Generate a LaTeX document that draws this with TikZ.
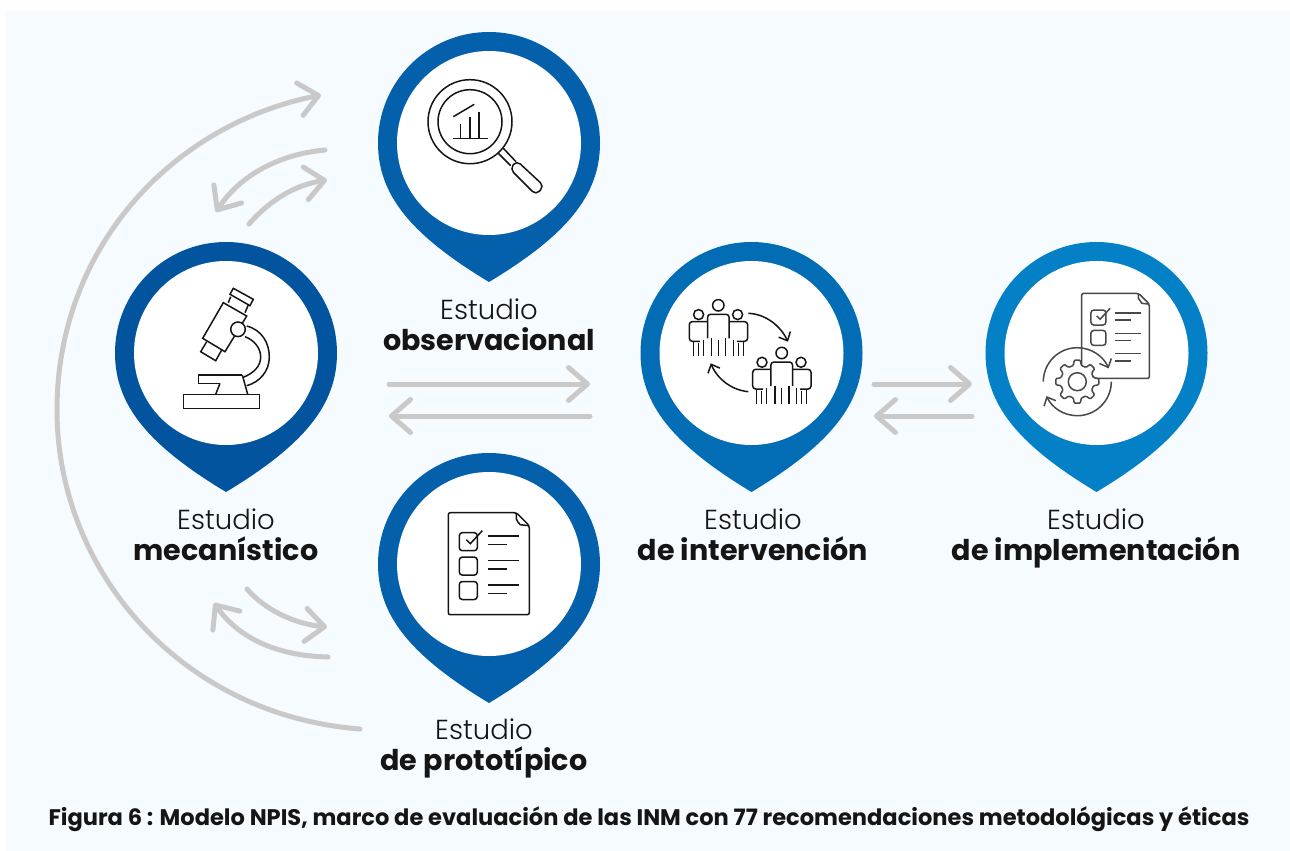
\documentclass[tikz,border=0pt]{standalone}
\usepackage{fontspec}
\setmainfont{Poppins}[UprightFont=* Light, BoldFont=* Bold]
\usetikzlibrary{arrows.meta}
\definecolor{panelblue}{HTML}{F5FBFF}
\definecolor{greyarrow}{HTML}{C9C9C9}
\definecolor{pinmec}{HTML}{03549F}
\definecolor{pinobs}{HTML}{0460AB}
\definecolor{pinint}{HTML}{026CB5}
\definecolor{pinimp}{HTML}{0380C6}
\definecolor{inkblack}{HTML}{151515}
\definecolor{inkgrey}{HTML}{484848}
\newcommand{\stagename}[1]{{\fontsize{28.6}{31}\selectfont\bfseries #1}}
\tikzset{
  cycleline/.style = {draw = greyarrow, line width = 5pt, line cap = round, -{Straight Barb[length = 19pt, width = 33pt, round]}},
  icon/.style = {draw = inkblack, line width = 1.5pt},
  iconarrow/.style = {icon, -{Straight Barb[length = 7pt, width = 13pt]}},
  stage/.style = {font = \fontsize{27.5}{31}\selectfont, align = center, text = inkblack},
  pin/.pic = {
    \fill[pic actions] (111, 0) arc [start angle = 0, end angle = 180, radius = 111pt] .. controls (-111, 52) and (-78, 92) .. (0, 139) .. controls (78, 92) and (111, 52) .. (111, 0) -- cycle;
    \fill[white] (0, 0) circle [radius = 92pt];
  },
  people/.pic = {
    \draw[icon] (0, 0) circle [radius = 5.7pt];
    \draw[icon] (-19.7, 9.3) circle [radius = 5pt];
    \draw[icon] (19.3, 9.3) circle [radius = 5pt];
    \draw[icon, rounded corners = 3pt] (-10.8, 33) -- (-10.8, 9) -- (10.8, 9) -- (10.8, 33);
    \draw[icon, rounded corners = 3pt] (-10.8, 16.3) -- (-29, 16.3) -- (-29, 36) -- (-18.5, 36);
    \draw[icon, rounded corners = 3pt] (10.8, 16.3) -- (29.3, 16.3) -- (29.3, 36) -- (18.5, 36);
    \foreach \legx/\legy in {-25/36, -20/38, -15/35, -6.7/33, 0/35, 7.3/33, 15/35, 20/38, 25/36}
      \draw[icon] (\legx, \legy) -- (\legx, 51);
  },
  checklist/.pic = {
    \draw[icon, rounded corners = 2pt] (0, 0) -- (68, 0) -- (81, 13) -- (81, 102) -- (0, 102) -- cycle;
    \draw[icon] (68, 0) -- (68, 6) to [bend right = 15] (72, 12) -- (81, 13);
    \foreach \boxy in {0, 1, 2} {
      \draw[icon] (40, 23.5 + 24.4 * \boxy) -- (71, 23.5 + 24.4 * \boxy);
      \draw[icon] (40, 32 + 24.4 * \boxy) -- (58.5, 32 + 24.4 * \boxy);
    }
    \foreach \boxy in {0, 1}
      \draw[icon, rounded corners = 3pt] (11, 20 + 24.4 * \boxy) rectangle (29, 38 + 24.4 * \boxy);
    \draw[icon] (18, 27) -- (22, 31) -- (34, 18);
  },
}
\begin{document}
\begin{tikzpicture}[x = 1pt, y = -1pt]
  \useasboundingbox (0, 0) rectangle (1290, 851);
  \fill[white] (0, 0) rectangle (1290, 851);
  \fill[panelblue] (6, 10) rectangle (1290, 851);

  \coordinate (O1) at (489, 143);
  \coordinate (M1) at (226, 353);
  \coordinate (I1) at (751.5, 353);
  \coordinate (E1) at (1096.5, 353);
  \coordinate (P1) at (489, 564);

  \pic[pinobs] at (O1) {pin};
  \pic[pinmec] at (M1) {pin};
  \pic[pinint] at (I1) {pin};
  \pic[pinimp] at (E1) {pin};
  \pic[pinobs] at (P1) {pin};

  \node[stage] (labelO) at (489, 325) {Estudio\\\stagename{observacional}};
  \node[stage] (labelM) at (226, 535) {Estudio\\\stagename{mecanístico}};
  \node[stage] (labelI) at (753, 535) {Estudio\\\stagename{de intervención}};
  \node[stage] (labelE) at (1096, 538) {Estudio\\\stagename{de implementación}};
  \node[stage] (labelP) at (484, 748) {Estudio\\\stagename{de prototípico}};
  \node[font = \fontsize{22.55}{26}\selectfont\bfseries, text = inkblack] (caption) at (649, 819) {Figura 6 : Modelo NPIS, marco de evaluación de las INM con 77 recomendaciones metodológicas y éticas};

  % grey arrows
  \coordinate (A1) at (360, 729);
  \coordinate (A2) at (57, 410);
  \coordinate (A3) at (321, 95);
  \draw[cycleline] (A1) .. controls (180, 715) and (57, 570) .. (A2) .. controls (57, 250) and (170, 125) .. (A3);
  \coordinate (B1) at (325, 150);
  \coordinate (B2) at (216, 212);
  \draw[cycleline] (B1) .. controls (280, 154) and (240, 175) .. (B2);
  \coordinate (C1) at (249, 224);
  \coordinate (C2) at (327, 180);
  \draw[cycleline] (C1) .. controls (270, 200) and (295, 185) .. (C2);
  \coordinate (D1) at (247, 589);
  \coordinate (D2) at (327, 627);
  \draw[cycleline] (D1) .. controls (265, 610) and (295, 624) .. (D2);
  \coordinate (F1) at (328, 657);
  \coordinate (F2) at (214, 603);
  \draw[cycleline] (F1) .. controls (280, 656) and (240, 640) .. (F2);
  \coordinate (G1) at (389, 384);
  \coordinate (G2) at (590, 384);
  \draw[cycleline] (G1) -- (G2);
  \coordinate (H1) at (590, 416);
  \coordinate (H2) at (389, 416);
  \draw[cycleline] (H1) -- (H2);
  \coordinate (J1) at (874, 384);
  \coordinate (J2) at (972, 384);
  \draw[cycleline] (J1) -- (J2);
  \coordinate (K1) at (972, 416);
  \coordinate (K2) at (874, 416);
  \draw[cycleline] (K1) -- (K2);

  % magnifier
  \draw[icon] (470, 121.7) circle [radius = 42pt];
  \draw[icon] (470, 121.7) circle [radius = 32pt];
  \draw[icon] (453, 138.3) -- (488.3, 138.3);
  \draw[icon] (460.7, 124) -- (460.7, 138.3);
  \draw[icon] (470, 116.7) -- (470, 138.3);
  \draw[icon] (479, 111.7) -- (479, 138.3);
  \draw[icon] (453.3, 116.7) -- (474.3, 104.3);
  \draw[icon] (503.3, 148.3) -- (516, 161.7);
  \draw[icon] (498.3, 153.3) -- (510.7, 165.7);
  \draw[icon, rounded corners = 5pt] (516.5, 160.5) -- (544, 186) -- (536, 195) -- (510, 169) -- cycle;

  % microscope
  \draw[icon] (183.3, 394.3) rectangle (259.3, 408.3);
  \draw[icon] (242.3, 375) -- (198.7, 375) -- (198.7, 383.3) -- (220, 383.3);
  \draw[icon] (220, 383.3) -- (215.7, 394.3);
  \draw[icon] (242.3, 375) -- (247.7, 394.3);
  \draw[icon] (246.7, 326) .. controls (262, 330) and (269.3, 343) .. (269.3, 357) .. controls (269.3, 371) and (260, 382) .. (246.7, 385.7);
  \draw[icon] (245, 336.7) .. controls (254, 340) and (260.7, 348) .. (260.7, 357) .. controls (260.7, 366) and (254, 373) .. (243.3, 377.3);
  \draw[icon] (223.3, 302.7) -- (246.7, 316) -- (225, 351.7) -- (202.7, 338.3) -- cycle;
  \draw[icon] (206.7, 341.7) -- (200.7, 351.7) -- (215.7, 360.7) -- (221.7, 350);
  \draw[icon] (230.7, 296.7) -- (228.3, 302.7);
  \draw[icon] (248.3, 305) -- (245, 312.7);
  \draw[icon] (233.3, 288.3) -- (253.3, 299.3) -- (250, 305.7) -- (230, 294.3) -- cycle;
  \draw[icon, fill = white] (238, 329.3) circle [radius = 7.3pt];

  % people
  \pic at (718.3, 305.3) {people};
  \pic at (781.7, 353) {people};
  \draw[iconarrow] (748.3, 313.3) .. controls (765, 314) and (780, 325) .. (788, 341.7);
  \draw[iconarrow] (748.3, 391.7) .. controls (732, 390) and (718, 380) .. (710.7, 363.3);

  % checklists
  \pic at (448.3, 512.7) {checklist};
  \draw[icon, rounded corners = 3pt] (459.3, 581.5) rectangle (477.3, 599.5);
  \pic[scale = 0.835, icon/.append style = {draw = inkgrey}] at (1081.7, 293.3) {checklist};

  % gear and arrows
  \coordinate (W1) at (1077.3, 381.7);
  \draw[iconarrow, draw = inkgrey] (1043.3, 381.7) arc [start angle = 180, end angle = 23, radius = 34pt];
  \draw[iconarrow, draw = inkgrey] (1111.3, 381.7) arc [start angle = 0, end angle = -155, radius = 34pt];
  \begin{scope}[shift = {(W1)}]
    \draw[icon, draw = inkgrey, fill = white, rounded corners = 1pt] (-14:16.7) \foreach \gearang in {0, 45, ..., 315} {-- (\gearang - 14:16.7) -- (\gearang - 8:21.7) -- (\gearang + 8:21.7) -- (\gearang + 14:16.7)} -- cycle;
    \draw[icon, draw = inkgrey] (0, 0) circle [radius = 9pt];
  \end{scope}
\end{tikzpicture}
\end{document}
